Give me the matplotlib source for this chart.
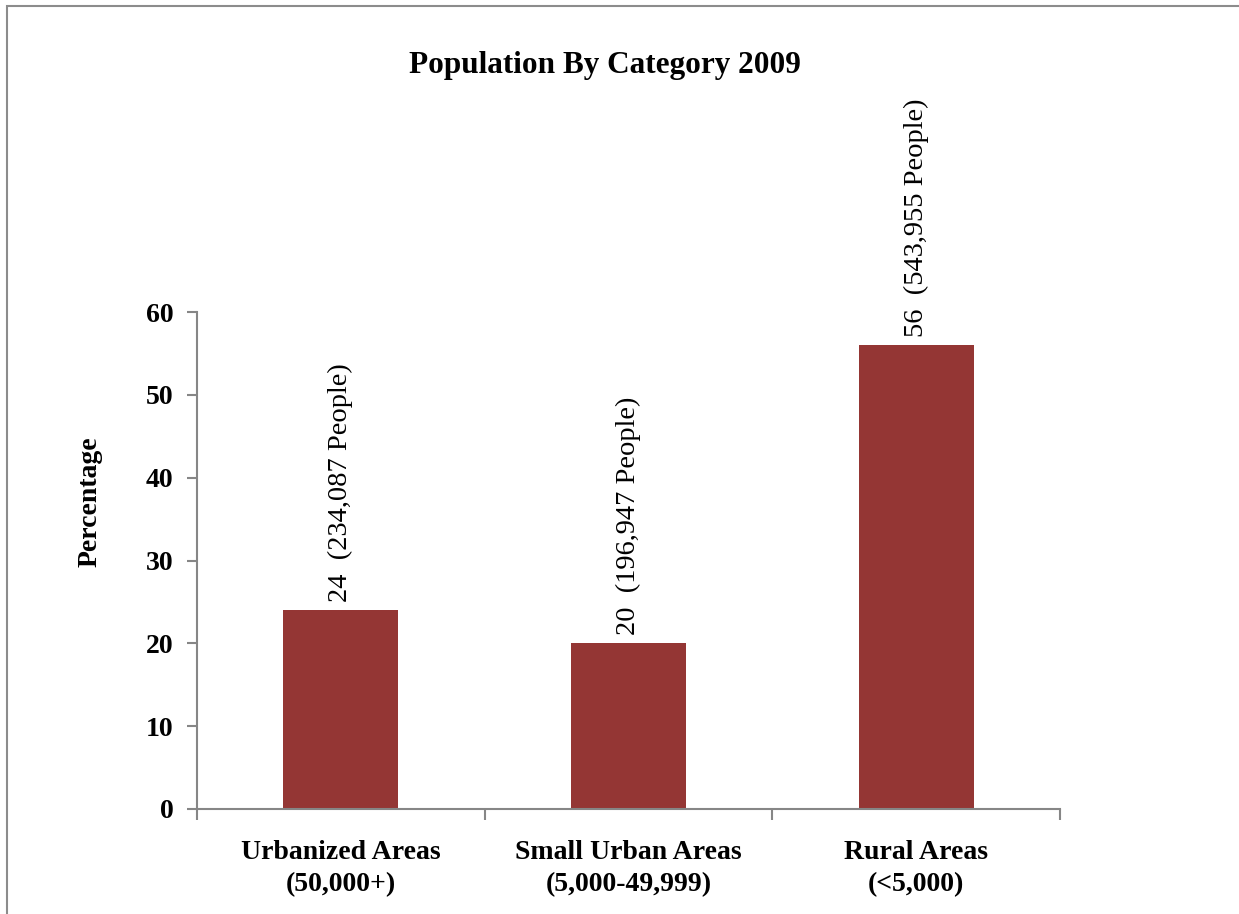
import matplotlib.pyplot as plt
import numpy as np
from matplotlib.patches import Rectangle

categories = ['Urbanized Areas\n(50,000+)', 'Small Urban Areas\n(5,000-49,999)', 'Rural Areas\n(<5,000)']
percent = [24, 20, 56]
people = ['234,087', '196,947', '543,955']

plt.rcParams['font.family'] = ['Liberation Serif', 'DejaVu Serif']

fig = plt.figure(figsize=(12.39, 9.14), dpi=100)
ax = fig.add_axes([197 / 1239, 105 / 914, 863 / 1239, 497 / 914])

x = np.arange(len(categories))
ax.bar(x, percent, width=0.4, color='#943634', zorder=2)

# labels above bars, rotated
for xi, v, p in zip(x, percent, people):
    ax.annotate(f'{v}  ({p} People)', (xi, v), xytext=(0, 6), textcoords='offset points',
                rotation=90, ha='center', va='bottom', fontsize=20.5)

ax.set_xlim(-0.5, len(categories) - 0.5)
ax.set_ylim(0, 60)
ax.set_yticks(range(0, 61, 10))
ax.set_yticklabels([str(t) for t in range(0, 61, 10)], fontsize=20, fontweight='bold')
ax.set_xticks(x)
ax.set_xticklabels(categories, fontsize=20, fontweight='bold', linespacing=1.4)
ax.set_xticks(np.arange(-0.5, len(categories), 1), minor=True)

grey = '#868686'
for s in ['top', 'right']:
    ax.spines[s].set_visible(False)
for s in ['left', 'bottom']:
    ax.spines[s].set_color(grey)
    ax.spines[s].set_linewidth(1.5)
ax.tick_params(axis='y', length=7, width=1.5, color=grey, pad=10)
ax.tick_params(axis='x', which='major', length=0, pad=22)
ax.tick_params(axis='x', which='minor', length=8, width=1.5, color=grey, direction='out')

fig.text(605 / 1239, 1 - 66 / 914, 'Population By Category 2009', ha='center', va='center',
         fontsize=22.5, fontweight='bold')
fig.text(90 / 1239, 1 - 502 / 914, 'Percentage', ha='center', va='center', rotation=90,
         fontsize=20, fontweight='bold')

# chart frame
fig.patches.append(Rectangle((7 / 1239, -0.1), 1.2, 1 - 6 / 914 + 0.1, transform=fig.transFigure,
                             fill=False, edgecolor='#8c8c8c', linewidth=1.5))

fig.savefig('out.png', dpi=100)
